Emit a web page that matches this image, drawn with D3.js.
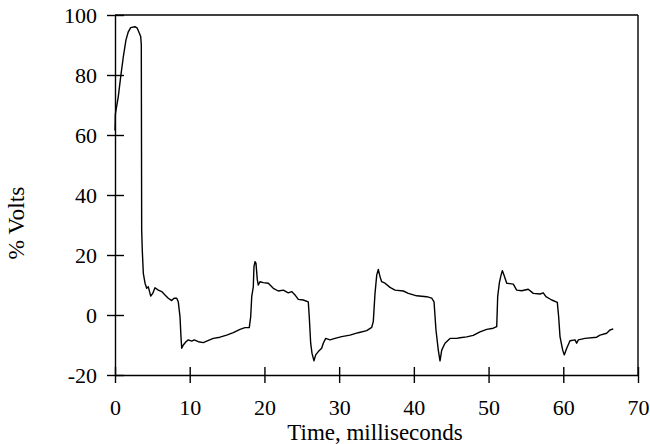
<!DOCTYPE html>
<html>
<head>
<meta charset="utf-8">
<script src="https://cdn.jsdelivr.net/npm/d3@7"></script>
<style>
  html, body { margin: 0; padding: 0; background: #fff; }
  svg { display: block; }
  text { font-family: "Liberation Serif", "Times New Roman", serif; fill: #000; }
</style>
</head>
<body>
<script>
// ---- data ----
const timeMs = [0, 0.05, 0.44, 0.76, 1.11, 1.47, 1.78, 2.10, 2.68, 2.98, 3.25, 3.44, 3.52, 3.57, 3.65, 3.79,
  4.02, 4.24, 4.46, 4.78, 5.05, 5.35, 5.80, 6.25, 6.69, 7.13, 7.59, 7.90, 8.26, 8.47, 8.70, 8.83, 8.93,
  9.14, 9.50, 9.81, 10.27, 10.61, 11.15, 11.82, 12.27, 13.16, 14.05, 14.95, 15.83, 16.73, 17.40, 17.97,
  18.16, 18.30, 18.51, 18.60, 18.74, 18.87, 19.05, 19.18, 19.41, 19.85, 20.52, 21.19, 21.86, 22.53, 23.19,
  23.65, 24.09, 24.53, 25.20, 25.87, 26.00, 26.19, 26.37, 26.63, 26.86, 27.21, 27.66, 27.88, 28.20, 28.78,
  29.44, 30.34, 31.45, 32.56, 33.69, 34.36, 34.57, 34.80, 35.03, 35.24, 35.47, 35.69, 36.14, 36.81, 37.48,
  38.59, 39.26, 40.38, 41.72, 42.39, 42.70, 42.96, 43.27, 43.50, 43.73, 44.17, 44.84, 45.73, 46.17, 47.07,
  47.95, 48.85, 49.75, 50.63, 51.09, 51.22, 51.44, 51.62, 51.84, 52.06, 52.43, 53.31, 53.76, 54.43, 55.31,
  55.99, 56.88, 57.32, 57.68, 58.45, 59.20, 59.38, 59.56, 59.92, 60.13, 60.46, 60.90, 61.57, 61.79, 62.01,
  62.90, 64.47, 64.91, 65.81, 66.25, 66.69];
const percentVolts = [61.5, 67, 72.8, 79.4, 86, 91.7, 94.4, 95.8, 96.1, 95.6, 94, 92.8, 90, 28.3, 21.7, 13.9,
  10.6, 8.9, 9.4, 6.3, 7.2, 9.1, 8.3, 7.8, 6.7, 5.6, 4.8, 5.6, 5.6, 4.4, -0.6, -7.2, -11.1,
  -10, -8.9, -8.3, -8.7, -8.3, -8.9, -9.2, -8.7, -7.8, -7.4, -6.7, -5.9, -4.8, -4.2, -4.2,
  -0.6, 6.1, 9.4, 16.1, 17.8, 17.2, 11.7, 10, 11.1, 10.8, 10.6, 8.9, 8, 8.3, 7.4,
  7.8, 6.7, 5.2, 5, 4.4, -0.6, -9.4, -12.8, -15.3, -13.3, -12.2, -11.1, -9.4, -7.8, -8.3,
  -7.8, -7.2, -6.7, -5.9, -5.2, -4.1, -2.2, 7.2, 13.3, 15.2, 12.8, 11.1, 10.6, 9.2, 8.3,
  8, 7.2, 6.4, 6.1, 5.6, 4.4, -5, -11.7, -15.3, -11.7, -9.4, -7.8, -7.8, -7.6, -7.3,
  -6.8, -5.6, -4.8, -4.4, -3.9, 6.1, 10.6, 12.8, 14.8, 13.3, 10.6, 10.3, 8.3, 8.1, 8.6,
  7.2, 7, 7.4, 6.1, 5, 4.2, -0.6, -7.2, -11.7, -13.3, -11.1, -8.6, -8.3, -9.4, -8.3,
  -7.8, -7.4, -6.7, -6.1, -5, -4.6];
const xTicks = [0, 10, 20, 30, 40, 50, 60, 70];
const yTicks = [-20, 0, 20, 40, 60, 80, 100];
const xTitle = "Time, milliseconds";
const yTitle = "% Volts";

// ---- layout ----
const W = 650, H = 444;
const L = 115, R = 638, T = 15, B = 375;

const svg = d3.select("body").append("svg").attr("width", W).attr("height", H);

const x = d3.scaleLinear().domain([0, 70]).range([L, R]);
const y = d3.scaleLinear().domain([-20, 100]).range([B, T]);

const fs = 22, fsTitle = 23;
const fam = '"Liberation Serif", "Times New Roman", serif';

// frame top & right
svg.append("line").attr("x1", L).attr("x2", R).attr("y1", T).attr("y2", T)
  .attr("stroke", "#000").attr("stroke-width", 1.4);
svg.append("line").attr("x1", R).attr("x2", R).attr("y1", T).attr("y2", B)
  .attr("stroke", "#000").attr("stroke-width", 1.4);

// x axis
const gx = svg.append("g").attr("transform", `translate(0,${B})`)
  .call(d3.axisBottom(x).tickValues(xTicks).tickFormat(d => String(d)).tickSize(8).tickSizeOuter(0));
gx.select(".domain").attr("stroke-width", 1.4);
gx.selectAll(".tick line").attr("y1", -8).attr("y2", 8).attr("stroke-width", 1.4);
gx.selectAll(".tick text").attr("y", 24).attr("dy", "0.71em")
  .style("font-family", fam).style("font-size", fs + "px");

// y axis
const gy = svg.append("g").attr("transform", `translate(${L},0)`)
  .call(d3.axisLeft(y).tickValues(yTicks).tickFormat(d => String(d)).tickSize(8).tickSizeOuter(0));
gy.select(".domain").attr("stroke-width", 1.4);
gy.selectAll(".tick line").attr("x1", 9).attr("x2", -8).attr("stroke-width", 1.4);
gy.selectAll(".tick text").attr("x", -18)
  .style("font-family", fam).style("font-size", fs + "px");

// titles
svg.append("text").attr("x", 375).attr("y", 440).attr("text-anchor", "middle")
  .style("font-size", fsTitle + "px").text(xTitle);
svg.append("text").attr("transform", "translate(24,223) rotate(-90)").attr("text-anchor", "middle")
  .style("font-size", (fsTitle + 0.5) + "px").text(yTitle);

// line
const line = d3.line().x((d, i) => x(timeMs[i])).y(d => y(d));
svg.append("path").datum(percentVolts).attr("d", line)
  .attr("fill", "none").attr("stroke", "#000").attr("stroke-width", 1.4).attr("stroke-linejoin", "round");
</script>
</body>
</html>
